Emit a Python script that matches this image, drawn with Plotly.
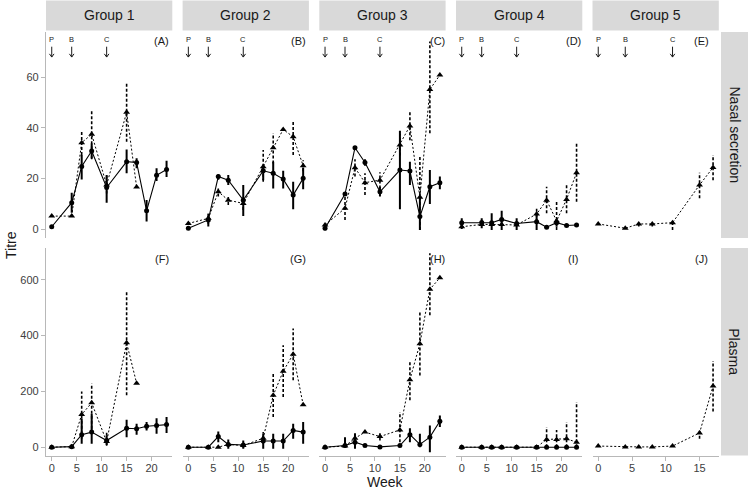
import plotly.graph_objects as go

W, H = 750, 492

# ---------------- data ----------------
weeks = [0, 4, 6, 8, 11, 15, 17, 19, 21, 23]
weeks_short = [0, 4, 6, 8, 11, 15, 17]
group_names = ["Group 1", "Group 2", "Group 3", "Group 4", "Group 5"]
row_names = ["Nasal secretion", "Plasma"]
panel_tags = ["(A)", "(B)", "(C)", "(D)", "(E)", "(F)", "(G)", "(H)", "(I)", "(J)"]
dose_weeks = [0, 4, 11]
dose_labels = ["P", "B", "C"]
nasal_ticks = [0, 20, 40, 60]
plasma_ticks = [0, 200, 400, 600]

# Group 1 nasal
g1_nas_c = [0.9, 10.4, 24.7, 30.8, 16.4, 26.6, 26.3, 7.2, 21.2, 23.5]
g1_nas_c_lo = [None, 6.4, 19.6, 27.8, 10.4, 22.0, 24.0, 3.0, 19.0, 20.5]
g1_nas_c_hi = [None, 14.3, 29.2, 33.8, 21.3, 31.4, 27.9, 11.5, 24.0, 27.0]
g1_nas_t = [5.1, 5.1, 34.1, 37.4, 17.4, 46.1, 16.6]
g1_nas_t_lo = [None, None, 29.2, 27.5, 14.0, 34.5, None]
g1_nas_t_hi = [None, None, 39.0, 46.7, 21.0, 57.5, None]
# Group 2 nasal
g2_nas_c = [0.3, 3.6, 20.7, 19.3, 11.4, 23.0, 22.0, 19.7, 13.4, 20.0]
g2_nas_c_lo = [None, 1.0, 19.5, 17.4, 5.1, 19.3, 16.0, 16.0, 7.8, 15.7]
g2_nas_c_hi = [None, 6.0, 21.5, 21.3, 17.4, 25.3, 26.6, 23.0, 18.7, 24.3]
g2_nas_t = [2.2, 4.2, 14.7, 11.4, 10.1, 24.6, 32.1, 39.3, 36.4, 25.0]
g2_nas_t_lo = [None, 2.0, 12.8, 9.5, 7.5, 18.7, 25.9, None, 29.2, 22.8]
g2_nas_t_hi = [None, 6.0, 16.4, 13.4, 12.5, 31.2, 37.8, None, 42.4, 27.2]
# Group 3 nasal
g3_nas_c = [0.3, 13.8, 32.1, 26.3, 14.7, 23.3, 22.9, 4.9, 16.7, 18.3]
g3_nas_c_lo = [-0.5, None, None, 25.0, 12.8, 7.8, 17.4, -0.4, 9.9, 15.7]
g3_nas_c_hi = [2.0, None, None, 27.5, 16.6, 38.8, 26.6, 12.8, 23.3, 20.7]
g3_nas_t = [1.6, 8.2, 24.2, 18.3, 19.3, 33.2, 40.7, 12.5, 55.1, 60.8]
g3_nas_t_lo = [None, 3.6, 20.7, 13.4, 16.0, 29.0, 35.1, -0.4, 37.8, None]
g3_nas_t_hi = [None, 12.8, 27.5, 22.0, 22.4, 37.5, 46.3, 28.6, 74.0, None]
# Group 4 nasal
g4_nas_c = [2.5, 2.6, 2.5, 3.8, 2.2, 2.9, 0.7, 2.5, 1.4, 1.6]
g4_nas_c_lo = [0.0, 0.3, -0.4, -0.4, -0.4, -0.4, None, 0.9, None, None]
g4_nas_c_hi = [4.2, 4.2, 6.2, 7.2, 4.2, 6.2, None, 3.6, None, None]
g4_nas_t = [0.9, 1.8, 1.8, 1.8, 1.6, 5.9, 11.4, 3.2, 11.7, 22.2]
g4_nas_t_lo = [None, None, None, None, None, 2.9, 6.2, -0.4, 6.2, 10.8]
g4_nas_t_hi = [None, None, None, None, None, 8.8, 16.7, 10.8, 18.0, 33.8]
# Group 5 nasal
g5_nas_t = [2.0, 0.3, 2.0, 2.0, 2.5, 17.4, 24.3]
g5_nas_t_lo = [None, None, 1.0, 1.0, -0.4, 12.1, 19.3]
g5_nas_t_hi = [None, None, 3.0, 3.0, 3.6, 22.2, 29.2]

# Group 1 plasma
g1_pla_c = [0, 2, 45, 54, 24, 68, 66, 75, 78, 81]
g1_pla_c_lo = [None, None, 12, 12, 8, 36, 45, 60, 48, 51]
g1_pla_c_hi = [None, None, 102, 120, 42, 98, 84, 90, 104, 108]
g1_pla_t = [0, 2, 117, 159, 20, 374, 229]
g1_pla_t_lo = [None, None, 30, 66, 5, 186, None]
g1_pla_t_hi = [None, None, 200, 228, 55, 557, None]
# Group 2 plasma
g2_pla_c = [0, 0, 38, 10, 8, 22, 22, 22, 60, 54]
g2_pla_c_lo = [None, None, 18, -6, -6, -6, -6, -6, 30, 12]
g2_pla_c_hi = [None, None, 56, 28, 24, 48, 48, 48, 84, 90]
g2_pla_t = [0, 0, 0, 10, 6, 32, 186, 272, 333, 152]
g2_pla_t_lo = [None, None, None, None, None, 12, 108, 180, 240, None]
g2_pla_t_hi = [None, None, None, None, None, 54, 269, 365, 425, None]
# Group 3 plasma
g3_pla_c = [0, 6, 18, 6, 1, 6, 45, 10, 36, 93]
g3_pla_c_lo = [None, 0, -6, None, None, None, 18, 0, -18, 72]
g3_pla_c_hi = [None, 36, 50, None, None, None, 68, 48, 78, 114]
g3_pla_t = [0, 4, 32, 54, 38, 62, 242, 371, 566, 607]
g3_pla_t_lo = [None, None, 16, None, 24, 0, 168, 257, 473, None]
g3_pla_t_hi = [None, None, 50, None, 50, 126, 311, 485, 695, None]
# Group 4 plasma
g4_pla_c = [0, 0, 0, 0, 0, 0, 0, 0, 0, 0]
g4_pla_c_lo = [None] * 10
g4_pla_c_hi = [None] * 10
g4_pla_t = [0, 0, 0, 0, 0, 0, 28, 28, 30, 18]
g4_pla_t_lo = [None, None, None, None, None, None, 0, 0, 0, 0]
g4_pla_t_hi = [None, None, None, None, None, None, 72, 62, 90, 162]
# Group 5 plasma
g5_pla_t = [4, 1, 1, 1, 4, 51, 219]
g5_pla_t_lo = [None, None, None, None, None, 30, 128]
g5_pla_t_hi = [None, None, None, None, None, 66, 309]

# ---------------- layout geometry (pixels) ----------------
col_left = [46.0, 182.6, 319.3, 456.0, 592.5]
col_w = 126.3
row_top = [32.0, 248.0]
row_bot = [238.0, 455.5]
x_range_std = [-1.15, 24.15]
x_range_g5 = [-0.85, 17.85]
y_range_nasal = [-3.55, 77.8]
y_range_plasma = [-29.8, 714.0]

def px(p):
    return p / W

def py(p):
    return 1 - p / H

panels = [
    (0, 0, weeks, g1_nas_c, g1_nas_c_lo, g1_nas_c_hi, weeks_short, g1_nas_t, g1_nas_t_lo, g1_nas_t_hi),
    (1, 0, weeks, g2_nas_c, g2_nas_c_lo, g2_nas_c_hi, weeks, g2_nas_t, g2_nas_t_lo, g2_nas_t_hi),
    (2, 0, weeks, g3_nas_c, g3_nas_c_lo, g3_nas_c_hi, weeks, g3_nas_t, g3_nas_t_lo, g3_nas_t_hi),
    (3, 0, weeks, g4_nas_c, g4_nas_c_lo, g4_nas_c_hi, weeks, g4_nas_t, g4_nas_t_lo, g4_nas_t_hi),
    (4, 0, None, None, None, None, weeks_short, g5_nas_t, g5_nas_t_lo, g5_nas_t_hi),
    (0, 1, weeks, g1_pla_c, g1_pla_c_lo, g1_pla_c_hi, weeks_short, g1_pla_t, g1_pla_t_lo, g1_pla_t_hi),
    (1, 1, weeks, g2_pla_c, g2_pla_c_lo, g2_pla_c_hi, weeks, g2_pla_t, g2_pla_t_lo, g2_pla_t_hi),
    (2, 1, weeks, g3_pla_c, g3_pla_c_lo, g3_pla_c_hi, weeks, g3_pla_t, g3_pla_t_lo, g3_pla_t_hi),
    (3, 1, weeks, g4_pla_c, g4_pla_c_lo, g4_pla_c_hi, weeks, g4_pla_t, g4_pla_t_lo, g4_pla_t_hi),
    (4, 1, None, None, None, None, weeks_short, g5_pla_t, g5_pla_t_lo, g5_pla_t_hi),
]

FONT = "Liberation Sans, Arial, Helvetica, sans-serif"
AXIS_GREY = "#b8b8b8"
TEXT_COL = "#1a1a1a"
TICK_TXT = "#404040"

fig = go.Figure()
layout = dict(
    width=W, height=H,
    margin=dict(l=0, r=0, t=0, b=0),
    paper_bgcolor="white", plot_bgcolor="white",
    showlegend=False,
    font=dict(family=FONT, color=TEXT_COL),
)
annotations = []
shapes = []

def bars(xs, lo, hi):
    bx, by = [], []
    for x, a, b in zip(xs, lo, hi):
        if a is None or b is None:
            continue
        bx += [x, x, None]
        by += [a, b, None]
    return bx, by

def ann(xp, yp, text, size, angle=0, family=FONT):
    return dict(x=px(xp), y=py(yp), xref="paper", yref="paper", text=text,
                showarrow=False, xanchor="center", yanchor="middle", textangle=angle,
                font=dict(family=family, size=size, color=TEXT_COL))

for k, (col, row, wc, c, clo, chi, wt, t, tlo, thi) in enumerate(panels):
    idx = k + 1
    xa = "x" if idx == 1 else f"x{idx}"
    ya = "y" if idx == 1 else f"y{idx}"
    xkey = "xaxis" if idx == 1 else f"xaxis{idx}"
    ykey = "yaxis" if idx == 1 else f"yaxis{idx}"
    xr = x_range_g5 if col == 4 else x_range_std
    yr = y_range_nasal if row == 0 else y_range_plasma
    x0 = col_left[col]
    layout[xkey] = dict(
        domain=[px(x0), px(x0 + col_w)], range=xr, anchor=ya,
        showgrid=False, zeroline=False,
        showline=(row == 1), linecolor=AXIS_GREY, linewidth=1.2,
        ticks="outside" if row == 1 else "", ticklen=4, tickwidth=1.2, tickcolor=AXIS_GREY,
        tickvals=([0, 5, 10, 15] if col == 4 else [0, 5, 10, 15, 20]) if row == 1 else [],
        showticklabels=(row == 1), ticklabelstandoff=-2,
        tickfont=dict(family=FONT, size=11, color=TICK_TXT),
    )
    layout[ykey] = dict(
        domain=[py(row_bot[row]), py(row_top[row])], range=yr, anchor=xa,
        showgrid=False, zeroline=False,
        showline=(col == 0), linecolor=AXIS_GREY, linewidth=1.2,
        ticks="outside" if col == 0 else "", ticklen=4, tickwidth=1.2, tickcolor=AXIS_GREY,
        tickvals=(nasal_ticks if row == 0 else plasma_ticks) if col == 0 else [],
        showticklabels=(col == 0),
        tickfont=dict(family=FONT, size=11, color=TICK_TXT),
    )
    # triangle series (dotted)
    bx, by = bars(wt, tlo, thi)
    fig.add_trace(go.Scatter(x=bx, y=by, mode="lines", xaxis=xa, yaxis=ya,
                             line=dict(color="black", width=1.6, dash="3px,2px"),
                             hoverinfo="skip"))
    fig.add_trace(go.Scatter(x=wt, y=t, mode="lines+markers", xaxis=xa, yaxis=ya,
                             line=dict(color="black", width=1, dash="2px,2px"),
                             marker=dict(symbol="triangle-up", size=6, color="black")))
    # circle series (solid)
    if c is not None:
        bx, by = bars(wc, clo, chi)
        fig.add_trace(go.Scatter(x=bx, y=by, mode="lines", xaxis=xa, yaxis=ya,
                                 line=dict(color="black", width=2),
                                 hoverinfo="skip"))
        fig.add_trace(go.Scatter(x=wc, y=c, mode="lines+markers", xaxis=xa, yaxis=ya,
                                 line=dict(color="black", width=1.1),
                                 marker=dict(symbol="circle", size=5, color="black")))
    # dose arrows in top row
    if row == 0:
        ux = (xr[1] - xr[0]) / col_w          # data units per pixel (x)
        uy = (yr[1] - yr[0]) / (row_bot[0] - row_top[0])  # data units per pixel (y)
        tip, tail = 67.9, 72.0
        for dw, dl in zip(dose_weeks, dose_labels):
            annotations.append(dict(x=dw, y=74.8, xref=xa, yref=ya, text=dl, showarrow=False,
                                    xanchor="center", yanchor="middle",
                                    font=dict(family=FONT, size=7.5, color=TEXT_COL)))
            shapes.append(dict(type="line", xref=xa, yref=ya, x0=dw, x1=dw, y0=tail, y1=tip,
                               line=dict(color=TEXT_COL, width=1)))
            shapes.append(dict(type="path", xref=xa, yref=ya,
                               path=f"M {dw - 2.3 * ux},{tip + 3.2 * uy} L {dw},{tip} L {dw + 2.3 * ux},{tip + 3.2 * uy}",
                               line=dict(color=TEXT_COL, width=1)))
    # panel tag
    tag_x = [161.7, 298.3, 437.7, 573.3, 701.7][col]
    tag_y = [41.0, 259.0][row]
    annotations.append(ann(tag_x, tag_y, panel_tags[k], 11))

# strips: top
for col in range(5):
    x0 = col_left[col]
    shapes.append(dict(type="rect", xref="paper", yref="paper",
                       x0=px(x0), x1=px(x0 + col_w), y0=py(30.5), y1=py(0.5),
                       fillcolor="#d9d9d9", line=dict(width=0), layer="below"))
    annotations.append(ann(x0 + col_w / 2, 15.5, group_names[col], 14))
# strips: right
for row in range(2):
    shapes.append(dict(type="rect", xref="paper", yref="paper",
                       x0=px(721), x1=px(748), y0=py(row_bot[row]), y1=py(row_top[row]),
                       fillcolor="#d9d9d9", line=dict(width=0), layer="below"))
    annotations.append(ann(734.5, (row_top[row] + row_bot[row]) / 2, row_names[row], 14, angle=90))

# axis titles
annotations.append(ann(385, 482, "Week", 14))
annotations.append(ann(11, 245, "Titre", 14, angle=-90))

layout["annotations"] = annotations
layout["shapes"] = shapes
fig.update_layout(**layout)
fig.write_html("out.html", config={"displayModeBar": False},
               post_script="document.body.style.margin='0';")
